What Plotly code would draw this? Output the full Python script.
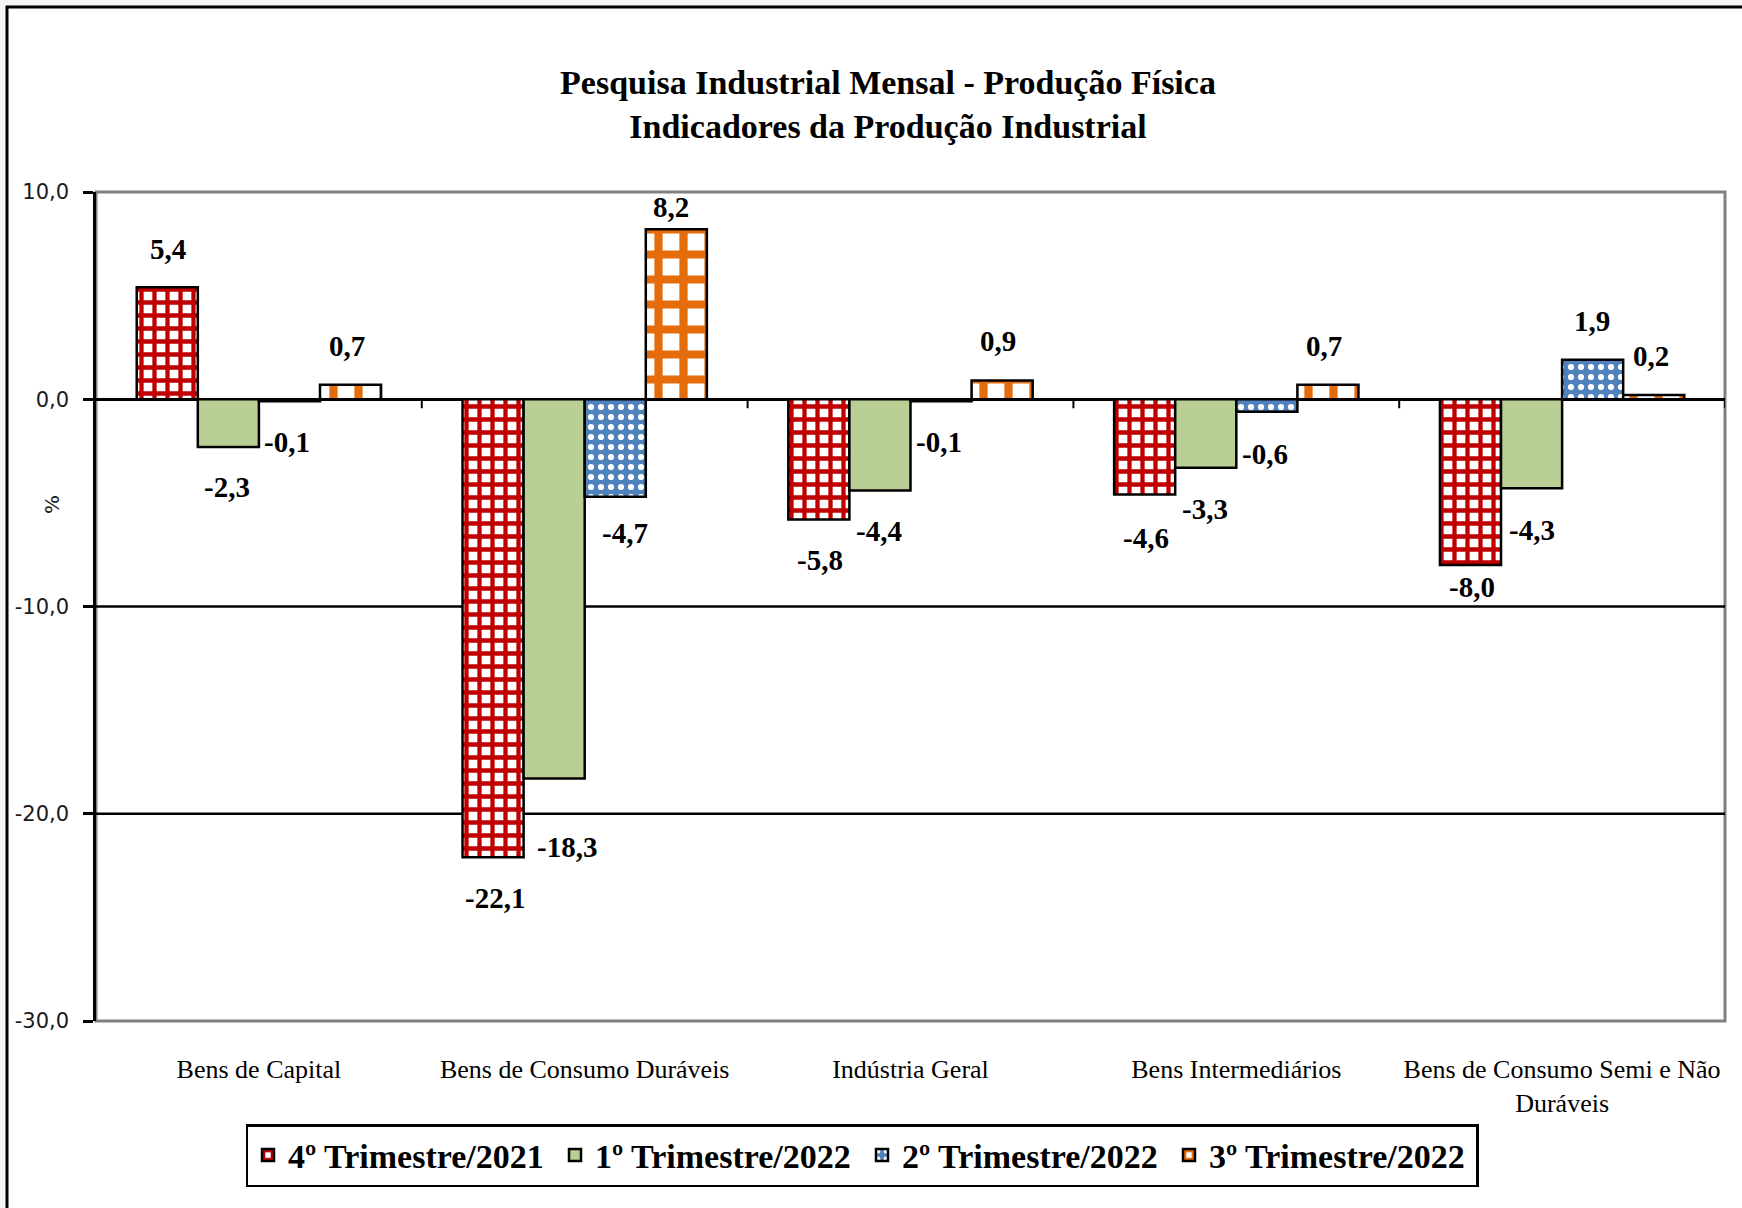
import plotly.graph_objects as go

# ---------------- data ----------------
CATEGORIES = ["Bens de Capital", "Bens de Consumo Duráveis", "Indústria Geral",
              "Bens Intermediários", "Bens de Consumo Semi e Não<br>Duráveis"]
SERIES = ["4º Trimestre/2021", "1º Trimestre/2022", "2º Trimestre/2022", "3º Trimestre/2022"]
Q4_2021 = [5.4, -22.1, -5.8, -4.6, -8.0]
Q1_2022 = [-2.3, -18.3, -4.4, -3.3, -4.3]
Q2_2022 = [-0.1, -4.7, -0.1, -0.6, 1.9]
Q3_2022 = [0.7, 8.2, 0.9, 0.7, 0.2]
Y_TICKS = [-30, -20, -10, 0, 10]
Y_TICK_LABELS = ["-30,0", "-20,0", "-10,0", "0,0", "10,0"]
GRID_VALUES = [-10, -20]
TITLE = "Pesquisa Industrial Mensal - Produção Física<br>Indicadores da Produção Industrial"

VALUES = [Q4_2021, Q1_2022, Q2_2022, Q3_2022]

# ---------------- styles ----------------
W, H = 1742, 1208
L, R, T, B = 96, 17, 192, 187
PW, PH = W - L - R, H - T - B
SERIF = "Liberation Serif, Times New Roman, serif"
SANS = "DejaVu Sans, Verdana, sans-serif"
BARGAP = 0.25

STYLES = [
    dict(color="#C00000", pattern=dict(shape="+", fgcolor="#C00000", bgcolor="#FFFFFF",
                                       size=13, solidity=0.55, fillmode="replace", fgopacity=1)),
    dict(color="#B9CF96"),
    dict(color="#4F81BD", pattern=dict(shape=".", fgcolor="#FFFFFF", bgcolor="#4F81BD",
                                       size=10, solidity=0.3, fillmode="replace", fgopacity=1)),
    dict(color="#E46C0A", pattern=dict(shape="+", fgcolor="#E46C0A", bgcolor="#FFFFFF",
                                       size=25, solidity=0.55, fillmode="replace", fgopacity=1)),
]

# label offsets (pixels) relative to the bar end, per series x category
LABEL_DX = [[1, 2, 1, 1, 2],
            [-1, 13, -1, -1, 0],
            [-2, 10, -2, -2, -1],
            [-4, -5, -4, -4, -3]]
LABEL_DY = [[38, -41, -41, -43, -22],
            [-40, -68, -41, -41, -42],
            [-41, -36, -41, -42, 39],
            [39, 22, 40, 39, 39]]

fig = go.Figure()
for s, (name, vals, st) in enumerate(zip(SERIES, VALUES, STYLES)):
    fig.add_trace(go.Bar(
        x=list(range(len(CATEGORIES))), y=vals, name="<b>" + name + "</b>",
        marker=dict(line=dict(color="#000000", width=2.5), **st),
    ))

fig.update_layout(
    width=W, height=H,
    margin=dict(l=L, r=R, t=T, b=B),
    paper_bgcolor="#F5F5F5",
    plot_bgcolor="rgba(0,0,0,0)",
    barmode="group", bargap=BARGAP, bargroupgap=0,
    showlegend=True,
    title=dict(text="<b>" + TITLE + "</b>", x=(888 - L) / PW, xref="paper", xanchor="center",
               y=1 - 94 / H, yref="container", yanchor="middle",
               font=dict(family=SERIF, size=34, color="#000000")),
    legend=dict(orientation="h", x=(862 - L) / PW, xanchor="center",
                y=(H - B - 1124) / PH, yanchor="top",
                bgcolor="#FFFFFF", bordercolor="#000000", borderwidth=2.5,
                font=dict(family=SERIF, size=34, color="#000000"),
                entrywidth=262, entrywidthmode="pixels"),
    xaxis=dict(tickmode="array", tickvals=list(range(len(CATEGORIES))), ticktext=CATEGORIES,
               range=[-0.5, len(CATEGORIES) - 0.5],
               showgrid=False, zeroline=False, showline=False, ticks="",
               ticklabelstandoff=30,
               tickfont=dict(family=SERIF, size=26, color="#000000")),
    yaxis=dict(range=[-30, 10], tickmode="array", tickvals=Y_TICKS, ticktext=Y_TICK_LABELS,
               showgrid=False, zeroline=True, zerolinecolor="#000000", zerolinewidth=2.5,
               showline=True, linecolor="#000000", linewidth=2.5,
               ticks="outside", ticklen=10, tickwidth=2.5, tickcolor="#000000",
               ticklabelstandoff=10,
               tickfont=dict(family=SANS, size=21, color="#1A1A1A")),
)

shapes = []
# white chart area with black outer border
shapes.append(dict(type="rect", xref="paper", yref="paper", layer="below",
                   x0=(7 - L) / PW, x1=(W + 20 - L) / PW,
                   y0=-(B + 20) / PH, y1=1 + (T - 7) / PH,
                   fillcolor="#FFFFFF", line=dict(color="#000000", width=3)))
# gray plot frame
shapes.append(dict(type="rect", xref="paper", yref="paper", layer="below",
                   x0=0, x1=1, y0=0, y1=1, line=dict(color="#808080", width=3)))
for g in GRID_VALUES:
    shapes.append(dict(type="line", xref="paper", yref="y", layer="below",
                       x0=0, x1=1, y0=g, y1=g, line=dict(color="#000000", width=2.5)))
# category boundary ticks on the zero line
for i in range(len(CATEGORIES)):
    shapes.append(dict(type="line", xref="x", yref="y", ysizemode="pixel", yanchor=0,
                       x0=i + 0.5, x1=i + 0.5, y0=0, y1=-9,
                       line=dict(color="#000000", width=2)))
fig.update_layout(shapes=shapes)

# data labels
bw = (1 - BARGAP) / len(SERIES)
annotations = []
for s, vals in enumerate(VALUES):
    for i, v in enumerate(vals):
        annotations.append(dict(
            x=i + (s - (len(SERIES) - 1) / 2) * bw, y=v, xref="x", yref="y",
            text="<b>" + f"{v:.1f}".replace(".", ",") + "</b>", showarrow=False,
            xanchor="center", yanchor="middle",
            xshift=LABEL_DX[s][i], yshift=LABEL_DY[s][i],
            font=dict(family=SERIF, size=29, color="#000000")))
annotations.append(dict(x=(52 - L) / PW, y=(H - B - 505) / PH, xref="paper", yref="paper",
                        text="%", textangle=-90, showarrow=False,
                        xanchor="center", yanchor="middle",
                        font=dict(family=SANS, size=20, color="#1A1A1A")))
fig.update_layout(annotations=annotations)

fig.write_html("out.html", config={"displayModeBar": False},
               post_script="document.body.style.margin='0';")
